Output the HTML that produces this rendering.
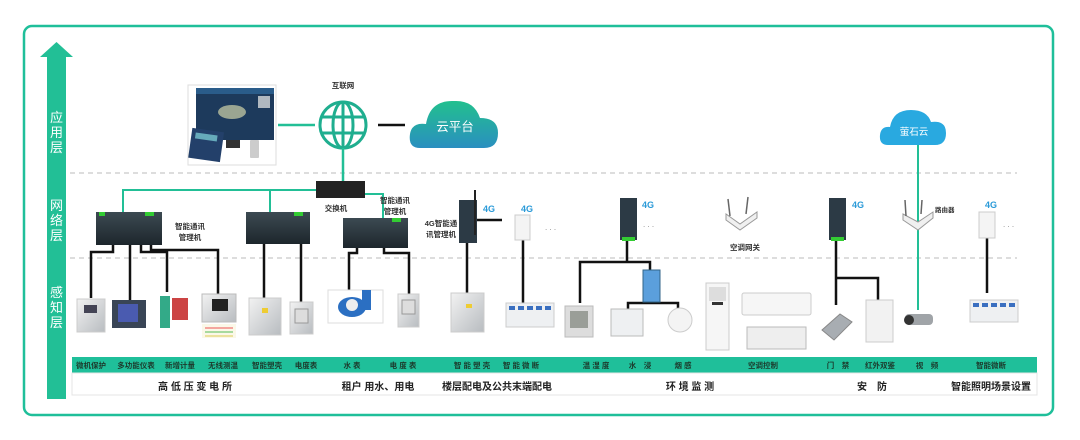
<!DOCTYPE html>
<html><head><meta charset="utf-8"><style>
html,body{margin:0;padding:0;background:#fff;}
svg{display:block;font-family:"Liberation Sans","Noto Sans CJK SC",sans-serif;}
</style></head><body>
<svg width="1080" height="440" viewBox="0 0 1080 440" xmlns="http://www.w3.org/2000/svg">
<defs>
<linearGradient id="cg" x1="0" y1="0" x2="0" y2="1"><stop offset="0" stop-color="#22c08e"/><stop offset="1" stop-color="#2a8fc0"/></linearGradient>
<linearGradient id="dev" x1="0" y1="0" x2="1" y2="1"><stop offset="0" stop-color="#f2f2f2"/><stop offset="1" stop-color="#b8bcc0"/></linearGradient>
<linearGradient id="dark" x1="0" y1="0" x2="0" y2="1"><stop offset="0" stop-color="#3c4a52"/><stop offset="1" stop-color="#1d262c"/></linearGradient>
</defs>
<rect x="24" y="26" width="1029" height="389" rx="8" fill="#fff" stroke="#1fbf9a" stroke-width="2.5"/>
<rect x="47" y="56" width="19" height="343" fill="#22bf96"/>
<polygon points="40,57 56.5,42 73,57" fill="#22bf96"/>
<g fill="#fff" font-size="13" text-anchor="middle">
<text x="56.5" y="122">应</text><text x="56.5" y="137">用</text><text x="56.5" y="152">层</text>
<text x="56.5" y="210">网</text><text x="56.5" y="225">络</text><text x="56.5" y="240">层</text>
<text x="56.5" y="297">感</text><text x="56.5" y="312">知</text><text x="56.5" y="327">层</text>
</g>
<line x1="70" y1="173" x2="1017" y2="173" stroke="#bbb" stroke-dasharray="5,4"/>
<line x1="70" y1="258" x2="1017" y2="258" stroke="#bbb" stroke-dasharray="5,4"/>
<!-- top -->
<rect x="188" y="85" width="88" height="80" fill="#fff" stroke="#ddd"/>
<rect x="196" y="88" width="78" height="52" fill="#1d3a5c"/>
<rect x="196" y="88" width="78" height="6" fill="#2a5c8a"/>
<ellipse cx="232" cy="112" rx="14" ry="7" fill="#9aa592"/>
<rect x="258" y="96" width="12" height="12" fill="#b0b8c0"/>
<rect x="226" y="140" width="14" height="8" fill="#333"/>
<rect x="190" y="130" width="32" height="30" fill="#23406a" transform="rotate(8 206 146)"/>
<rect x="194" y="134" width="22" height="6" fill="#6ab" transform="rotate(8 206 146)"/>
<rect x="250" y="140" width="9" height="18" rx="1" fill="#ccc"/>
<line x1="278" y1="125" x2="315" y2="125" stroke="#22bf96" stroke-width="2.5"/>
<text x="343" y="88" font-size="7.5" font-weight="bold" text-anchor="middle" fill="#333">互联网</text>
<g stroke="#1fae8f" stroke-width="3" fill="none">
<circle cx="343" cy="125" r="23"/>
<ellipse cx="343" cy="125" rx="10" ry="23"/>
<line x1="343" y1="102" x2="343" y2="148"/>
<line x1="321" y1="117" x2="365" y2="117"/><line x1="321" y1="133" x2="365" y2="133"/>
</g>
<line x1="343" y1="148" x2="343" y2="181" stroke="#22bf96" stroke-width="2.5"/>
<line x1="378" y1="125" x2="405" y2="125" stroke="#111" stroke-width="2.5"/>
<path d="M420,148 Q408,148 410,134 Q412,122 426,124 Q430,100 454,101 Q474,100 480,118 Q498,118 498,133 Q498,148 484,148 Z" fill="url(#cg)"/>
<text x="455" y="131" font-size="12.5" fill="#fff" text-anchor="middle">云平台</text>
<rect x="316" y="181" width="49" height="17" fill="#222"/>
<text x="336" y="211" font-size="7.5" font-weight="bold" text-anchor="middle" fill="#333">交换机</text>
<polyline points="316,190 123,190 123,214" fill="none" stroke="#22bf96" stroke-width="2"/>
<line x1="270" y1="190" x2="270" y2="214" stroke="#22bf96" stroke-width="2"/>
<polyline points="365,194 383,194 383,219" fill="none" stroke="#22bf96" stroke-width="2"/>
<g>
<rect x="96" y="212" width="66" height="33" fill="url(#dark)"/><rect x="99" y="212" width="6" height="4" fill="#3c3"/><rect x="145" y="212" width="9" height="4" fill="#3c3"/>
<rect x="246" y="212" width="64" height="32" fill="url(#dark)"/><rect x="294" y="212" width="9" height="4" fill="#3c3"/>
<rect x="343" y="218" width="65" height="30" fill="url(#dark)"/><rect x="392" y="218" width="9" height="4" fill="#3c3"/>
</g>
<g font-size="7.5" font-weight="bold" fill="#333" text-anchor="middle">
<text x="190" y="229">智能通讯</text><text x="190" y="240">管理机</text>
<text x="395" y="203">智能通讯</text><text x="395" y="214">管理机</text>
<text x="441" y="226">4G智能通</text><text x="441" y="237">讯管理机</text>
</g>
<g stroke="#111" stroke-width="2.5" fill="none">
<polyline points="113,245 113,252 91,252 91,298"/>
<line x1="130" y1="245" x2="130" y2="300"/>
<polyline points="141,245 141,252 167,252 167,296"/>
<polyline points="151,245 151,250 218,250 218,297"/>
<line x1="264" y1="244" x2="264" y2="300"/>
<line x1="301" y1="244" x2="301" y2="302"/>
<polyline points="357,248 357,253 349,253 349,290"/>
<polyline points="384,248 384,253 409,253 409,294"/>
<line x1="467" y1="243" x2="467" y2="293"/>
<line x1="473" y1="220" x2="502" y2="220"/>
<line x1="523" y1="240" x2="523" y2="305"/>
<polyline points="580,303 580,262 650,262 650,272"/>
<line x1="627" y1="240" x2="627" y2="262"/>
<polyline points="628,311 628,303 678,303 678,310"/>
<line x1="836" y1="240" x2="836" y2="305"/>
<polyline points="836,278 878,278 878,300"/>
<line x1="987" y1="238" x2="987" y2="293"/>
</g>
<rect x="77" y="299" width="28" height="33" fill="url(#dev)" stroke="#ccc"/><rect x="84" y="305" width="13" height="8" fill="#445"/>
<rect x="112" y="300" width="34" height="28" fill="#394556"/><rect x="118" y="304" width="20" height="18" fill="#4a5bb0"/>
<rect x="158" y="292" width="34" height="38" fill="#fff"/><rect x="160" y="296" width="10" height="32" fill="#3a8"/><rect x="172" y="298" width="16" height="22" fill="#c44"/>
<rect x="202" y="294" width="34" height="28" fill="url(#dev)" stroke="#bbb"/><rect x="212" y="299" width="16" height="12" fill="#222"/>
<rect x="202" y="324" width="34" height="14" fill="#fbf8e8"/><line x1="205" y1="328" x2="233" y2="328" stroke="#e55"/><line x1="205" y1="332" x2="233" y2="332" stroke="#5b5"/><line x1="205" y1="336" x2="233" y2="336" stroke="#dc5"/>
<rect x="249" y="298" width="32" height="37" fill="url(#dev)" stroke="#ccc"/><rect x="262" y="308" width="6" height="5" fill="#ec3"/>
<rect x="290" y="302" width="23" height="32" fill="url(#dev)" stroke="#ccc"/><rect x="295" y="309" width="13" height="14" fill="#ddd" stroke="#999"/>
<rect x="328" y="290" width="55" height="33" fill="#fff" stroke="#ddd"/><ellipse cx="352" cy="307" rx="14" ry="10" fill="#2b6fc2"/><circle cx="352" cy="305" r="6" fill="#eee"/><rect x="362" y="290" width="9" height="20" fill="#2b6fc2"/>
<rect x="398" y="294" width="21" height="33" fill="url(#dev)" stroke="#ccc"/><rect x="402" y="300" width="13" height="14" fill="#ddd" stroke="#999"/>
<rect x="451" y="293" width="33" height="39" fill="url(#dev)" stroke="#ccc"/><rect x="466" y="304" width="6" height="4" fill="#ec3"/>
<rect x="506" y="303" width="48" height="24" fill="#eef0f2" stroke="#ccc"/>
<g fill="#3a6fc0"><rect x="509" y="306" width="6" height="4"/><rect x="518" y="306" width="6" height="4"/><rect x="527" y="306" width="6" height="4"/><rect x="536" y="306" width="6" height="4"/><rect x="545" y="306" width="6" height="4"/></g>
<g>
<rect x="459" y="200" width="18" height="43" fill="#2c3a45"/><line x1="475" y1="190" x2="475" y2="235" stroke="#222" stroke-width="2"/>
<text x="489" y="212" font-size="9" font-weight="bold" fill="#2a9ad8" text-anchor="middle">4G</text>
<rect x="515" y="215" width="15" height="25" fill="#f4f4f4" stroke="#ccc"/>
<text x="527" y="212" font-size="9" font-weight="bold" fill="#2a9ad8" text-anchor="middle">4G</text>
<text x="545" y="230" font-size="8" fill="#888">. . .</text>
<rect x="620" y="198" width="17" height="42" fill="#2c3a45"/><rect x="622" y="237" width="13" height="4" fill="#3c3"/>
<text x="648" y="208" font-size="9" font-weight="bold" fill="#2a9ad8" text-anchor="middle">4G</text>
<text x="643" y="227" font-size="8" fill="#888">. . .</text>
<rect x="829" y="198" width="17" height="42" fill="#2c3a45"/><rect x="831" y="237" width="13" height="4" fill="#3c3"/>
<text x="858" y="208" font-size="9" font-weight="bold" fill="#2a9ad8" text-anchor="middle">4G</text>
<rect x="979" y="212" width="16" height="26" fill="#f4f4f4" stroke="#ccc"/>
<text x="991" y="208" font-size="9" font-weight="bold" fill="#2a9ad8" text-anchor="middle">4G</text>
<text x="1003" y="227" font-size="8" fill="#888">. . .</text>
</g>
<polygon points="726,220 740,230 757,218 757,212 740,224 726,214" fill="#f0f0f0" stroke="#999"/>
<line x1="730" y1="216" x2="728" y2="199" stroke="#666" stroke-width="1.5"/><line x1="746" y1="214" x2="748" y2="197" stroke="#666" stroke-width="1.5"/>
<text x="745" y="250" font-size="7.5" font-weight="bold" fill="#333" text-anchor="middle">空调网关</text>
<rect x="565" y="306" width="28" height="31" fill="#ddd" stroke="#bbb"/><rect x="570" y="311" width="18" height="17" fill="#9a9e98"/>
<rect x="643" y="270" width="17" height="32" fill="#5b9fdc" stroke="#368"/>
<rect x="611" y="309" width="32" height="27" fill="#eef0f2" stroke="#bbb"/>
<circle cx="680" cy="320" r="12" fill="#f4f4f4" stroke="#ccc"/>
<rect x="706" y="283" width="23" height="67" fill="#f6f6f6" stroke="#ccc"/><rect x="709" y="287" width="17" height="14" fill="#ddd"/><rect x="712" y="302" width="11" height="3" fill="#333"/>
<rect x="742" y="293" width="69" height="22" rx="2" fill="#f6f6f6" stroke="#ccc"/>
<rect x="747" y="327" width="59" height="22" fill="#eee" stroke="#bbb"/>
<rect x="818" y="308" width="38" height="40" fill="#fff"/><polygon points="822,330 840,314 852,322 834,340" fill="#a8adb2" stroke="#888"/>
<rect x="866" y="300" width="27" height="42" fill="#f2f2f2" stroke="#ccc"/>
<path d="M888,145 Q879,145 880,135 Q881,126 890,127 Q893,110 911,110 Q927,110 931,122 Q946,120 946,133 Q946,145 935,145 Z" fill="#29a9e0"/>
<text x="914" y="135" font-size="9.5" fill="#fff" text-anchor="middle">萤石云</text>
<line x1="918" y1="145" x2="918" y2="310" stroke="#22bf96" stroke-width="2"/>
<polygon points="903,220 918,230 933,218 933,212 918,222 903,214" fill="#f0f0f0" stroke="#999"/>
<line x1="906" y1="216" x2="905" y2="200" stroke="#666" stroke-width="1.5"/><line x1="921" y1="214" x2="922" y2="200" stroke="#666" stroke-width="1.5"/>
<text x="935" y="212" font-size="6.5" font-weight="bold" fill="#333">路由器</text>
<rect x="900" y="310" width="35" height="23" fill="#fff"/><rect x="905" y="314" width="28" height="11" rx="4" fill="#a0a4a8"/><circle cx="909" cy="320" r="5" fill="#333"/>
<rect x="970" y="300" width="48" height="22" fill="#eef0f2" stroke="#ccc"/>
<g fill="#3a6fc0"><rect x="973" y="303" width="6" height="4"/><rect x="982" y="303" width="6" height="4"/><rect x="991" y="303" width="6" height="4"/><rect x="1000" y="303" width="6" height="4"/><rect x="1009" y="303" width="6" height="4"/></g>
<rect x="72" y="357" width="965" height="16" fill="#1fbf9a"/>
<rect x="72" y="373" width="965" height="22" fill="#fff" stroke="#e4e4e4"/>
<g font-size="7.5" font-weight="bold" fill="#1c3a2c" text-anchor="middle">
<text x="91" y="368">微机保护</text><text x="136" y="368">多功能仪表</text><text x="180" y="368">新增计量</text><text x="223" y="368">无线测温</text><text x="267" y="368">智能塑壳</text><text x="306" y="368">电度表</text><text x="352" y="368">水 表</text><text x="403" y="368">电 度 表</text><text x="472" y="368">智 能 塑 壳</text><text x="521" y="368">智 能 微 断</text>
<text x="596" y="368">温 湿 度</text><text x="640" y="368">水　浸</text><text x="683" y="368">烟 感</text><text x="763" y="368">空调控制</text><text x="838" y="368">门　禁</text><text x="880" y="368">红外双鉴</text><text x="927" y="368">视　频</text><text x="991" y="368">智能微断</text>
</g>
<g font-size="10" font-weight="bold" fill="#222" text-anchor="middle">
<text x="195" y="390">高 低 压 变 电 所</text><text x="378" y="390">租户 用水、用电</text><text x="497" y="390">楼层配电及公共末端配电</text>
<text x="690" y="390">环 境 监 测</text><text x="872" y="390">安　防</text><text x="991" y="390">智能照明场景设置</text>
</g>
</svg>
</body></html>
